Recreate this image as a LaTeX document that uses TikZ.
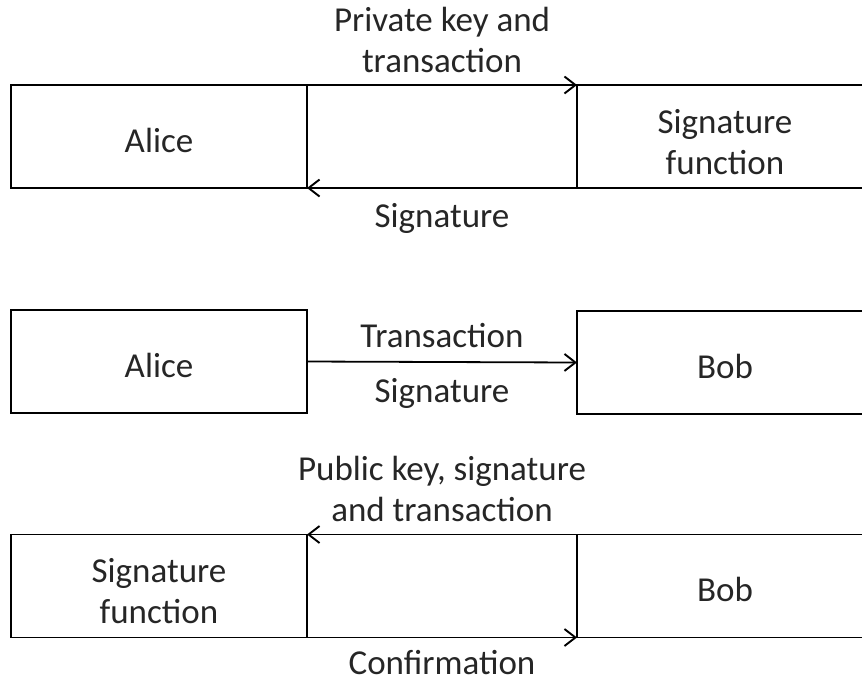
\documentclass[tikz,border=0pt]{standalone}
\usepackage{fontspec}
\setmainfont{Carlito}
\usetikzlibrary{arrows.meta}
\begin{document}
\begin{tikzpicture}[x=1pt,y=-1pt,
  every node/.style={font=\fontsize{35}{41}\selectfont, inner sep=0pt, text=black!85},
  party/.style={draw=black, line width=1.8pt, outer sep=0pt, minimum width=296pt,
    minimum height=103pt, align=center},
  oneline/.style={party, text height=32pt},
  twoline/.style={party, text height=76pt},
  msg/.style={line width=1.8pt, draw=black,
    -{Straight Barb[length=11pt,width=17pt,line width=1.9pt]}},
  lbl/.style={anchor=base, align=center},
  lbltop/.style={anchor=south, align=center}]
\useasboundingbox (0,0) rectangle (862,681);

% signing the transaction
\node[oneline] (alice1) at (159,136.5) {Alice};
\node[twoline] (sign1)  at (725,136.5) {Signature\\function};
\draw[msg] (alice1.north east) -- (sign1.north west);
\draw[msg] (sign1.south west) -- (alice1.south east);
\node[lbltop] (keytx) at (442,73) {Private key and\\transaction};
\node[lbl] (sigback) at (442,227) {Signature};

% sending it to Bob
\node[oneline] (alice2) at (159,361.5) {Alice};
\node[oneline] (bob2)   at (725,362.5) {Bob};
\draw[msg] (alice2.east) -- (bob2.west);
\node[lbl] (txlbl)  at (442,347) {Transaction};
\node[lbl] (siglbl) at (442,402) {Signature};

% verification
\node[twoline] (sign3) at (159,586) {Signature\\function};
\node[oneline] (bob3)  at (725,586) {Bob};
\draw[msg] (bob3.north west) -- (sign3.north east);
\draw[msg] (sign3.south east) -- (bob3.south west);
\node[lbltop] (pubkey) at (442,522) {Public key, signature\\and transaction};
\node[lbl] (confirm) at (442,674) {Confirmation};
\end{tikzpicture}
\end{document}
